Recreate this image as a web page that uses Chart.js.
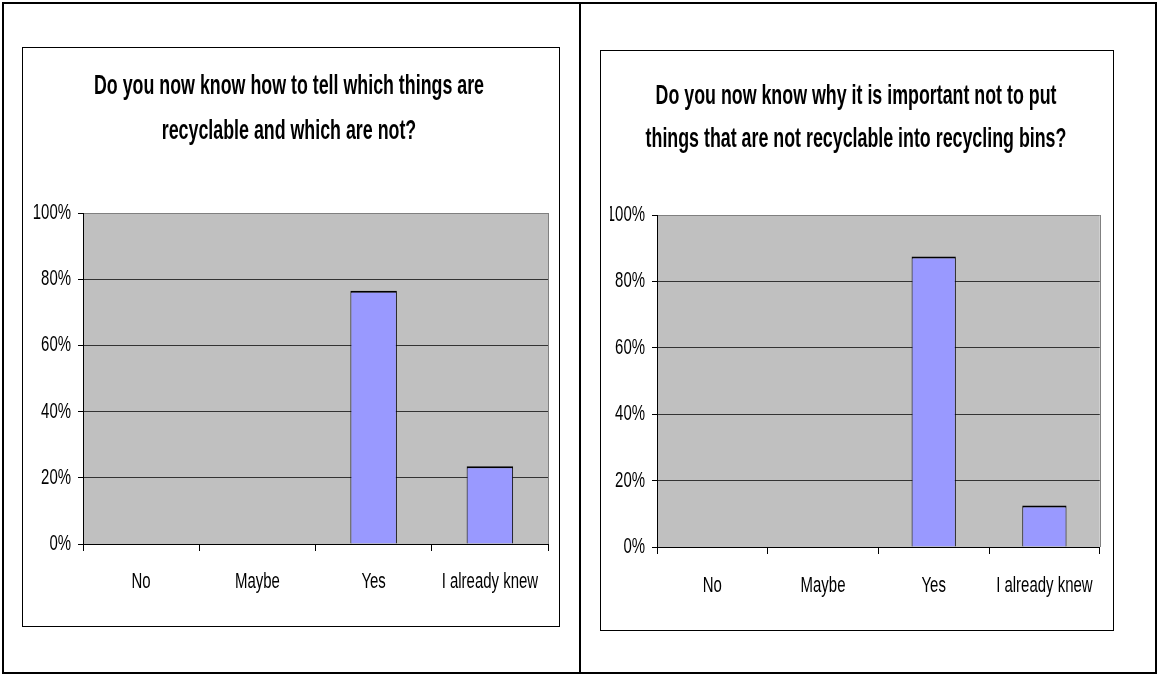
<!DOCTYPE html>
<html><head><meta charset="utf-8">
<script src="https://cdn.jsdelivr.net/npm/chart.js@4.4.1/dist/chart.umd.min.js"></script>
<style>
html,body{margin:0;padding:0;background:#fff;}
body{width:1157px;height:675px;position:relative;overflow:hidden;}
#frame{position:absolute;left:2px;top:2px;width:1155px;height:672px;border:2px solid #000;box-sizing:border-box;}
#divider{position:absolute;left:579px;top:2px;width:2px;height:672px;background:#000;}
.box{position:absolute;border:1px solid #000;box-sizing:border-box;background:#fff;}
.box canvas{position:absolute;left:0;top:0;}
</style></head><body>
<div id="frame"></div><div id="divider"></div>
<div class="box" style="left:22px;top:47px;width:538px;height:580px;"><canvas id="c1" width="536" height="578" style="width:536px;height:578px"></canvas></div>
<div class="box" style="left:600px;top:50px;width:514px;height:581px;"><canvas id="c2" width="512" height="579" style="width:512px;height:579px"></canvas></div>
<script>
const categories = ['No', 'Maybe', 'Yes', 'I already knew'];
const title1 = ['Do you now know how to tell which things are', 'recyclable and which are not?'];
const title2 = ['Do you now know why it is important not to put', 'things that are not recyclable into recycling bins?'];
const values1 = [0, 0, 76.5, 23.5];
const values2 = [0, 0, 87.5, 12.5];
const yTickValues = [0, 20, 40, 60, 80, 100];
const yTickLabels = ['0%', '20%', '40%', '60%', '80%', '100%'];

const FONT = "'Liberation Sans', Arial, sans-serif";

// Horizontally condense all text drawn on a context (the reference uses a squeezed narrow font)
function condenseText(ctx) {
  const origFill = ctx.fillText.bind(ctx);
  const origMeasure = ctx.measureText.bind(ctx);
  const factor = () => (/bold/.test(ctx.font) ? 0.66 : 0.68);
  ctx.fillText = function (t, x, y) {
    const sx = factor();
    ctx.save(); ctx.translate(x, y); ctx.scale(sx, 1); origFill(t, 0, 0); ctx.restore();
  };
  ctx.measureText = function (t) {
    const sx = factor();
    const m = origMeasure(t);
    return { width: m.width * sx, actualBoundingBoxAscent: m.actualBoundingBoxAscent, actualBoundingBoxDescent: m.actualBoundingBoxDescent };
  };
}

const plotBg = {
  id: 'plotBg',
  beforeDraw(chart) {
    const { ctx, chartArea: a } = chart;
    ctx.save();
    ctx.fillStyle = '#C0C0C0';
    ctx.fillRect(a.left, a.top, a.right - a.left, a.bottom - a.top);
    ctx.restore();
  },
  beforeDatasetsDraw(chart) {
    const { ctx, chartArea: a } = chart;
    ctx.save();
    ctx.strokeStyle = '#808080';
    ctx.lineWidth = 1;
    ctx.beginPath();
    ctx.moveTo(Math.round(a.right) + 0.5, a.top);
    ctx.lineTo(Math.round(a.right) + 0.5, a.bottom);
    ctx.stroke();
    ctx.restore();
  }
};

function makeChart(id, values, title, cfg) {
  const ctx = document.getElementById(id).getContext('2d');
  condenseText(ctx);
  return new Chart(ctx, {
    type: 'bar',
    data: {
      labels: categories,
      datasets: [{
        data: values,
        backgroundColor: '#9999FF',
        borderColor: '#000',
        borderWidth: { top: 2, left: 1, right: 1, bottom: 0 },
        borderSkipped: 'start',
        barPercentage: 0.4,
        categoryPercentage: 1
      }]
    },
    plugins: [plotBg],
    options: {
      responsive: false,
      animation: false,
      devicePixelRatio: 1,
      layout: { padding: { left: cfg.padL, right: cfg.padR, top: 0, bottom: 0 } },
      plugins: {
        legend: { display: false },
        tooltip: { enabled: false },
        title: {
          display: true, text: title, color: '#000',
          font: { family: FONT, size: 27, weight: 'bold', lineHeight: cfg.titleLH / 27 },
          padding: { top: cfg.tTop, bottom: cfg.tBottom }
        }
      },
      scales: {
        x: {
          grid: { display: true, offset: true, drawOnChartArea: false, drawTicks: true, tickLength: 7, tickColor: '#000', color: '#000' },
          border: { display: true, color: '#000', width: 1 },
          ticks: { color: '#000', font: { family: FONT, size: 22 }, padding: cfg.xPad, maxRotation: 0, minRotation: 0, autoSkip: false },
          afterFit(s) { s.height = cfg.xHeight; }
        },
        y: {
          min: 0, max: 100,
          ticks: {
            stepSize: 20, color: '#000', font: { family: FONT, size: 22 }, padding: 7,
            callback: (v) => yTickLabels[yTickValues.indexOf(v)]
          },
          grid: {
            color: (c) => (c.tick && c.tick.value === 100) ? '#808080' : '#333',
            tickColor: '#000', tickLength: 5, drawTicks: true
          },
          border: { display: true, color: '#000', width: 1 },
          afterFit(s) { s.width = cfg.yWidth; }
        }
      }
    }
  });
}

makeChart('c1', values1, title1, { padL: 7, padR: 11, yWidth: 53, xHeight: 82, xPad: 18, titleLH: 45, tTop: 16.5, tBottom: 58.5 });
makeChart('c2', values2, title2, { padL: 9, padR: 11, yWidth: 47, xHeight: 83, xPad: 19, titleLH: 43, tTop: 24.5, tBottom: 53.5 });
</script>
</body></html>
